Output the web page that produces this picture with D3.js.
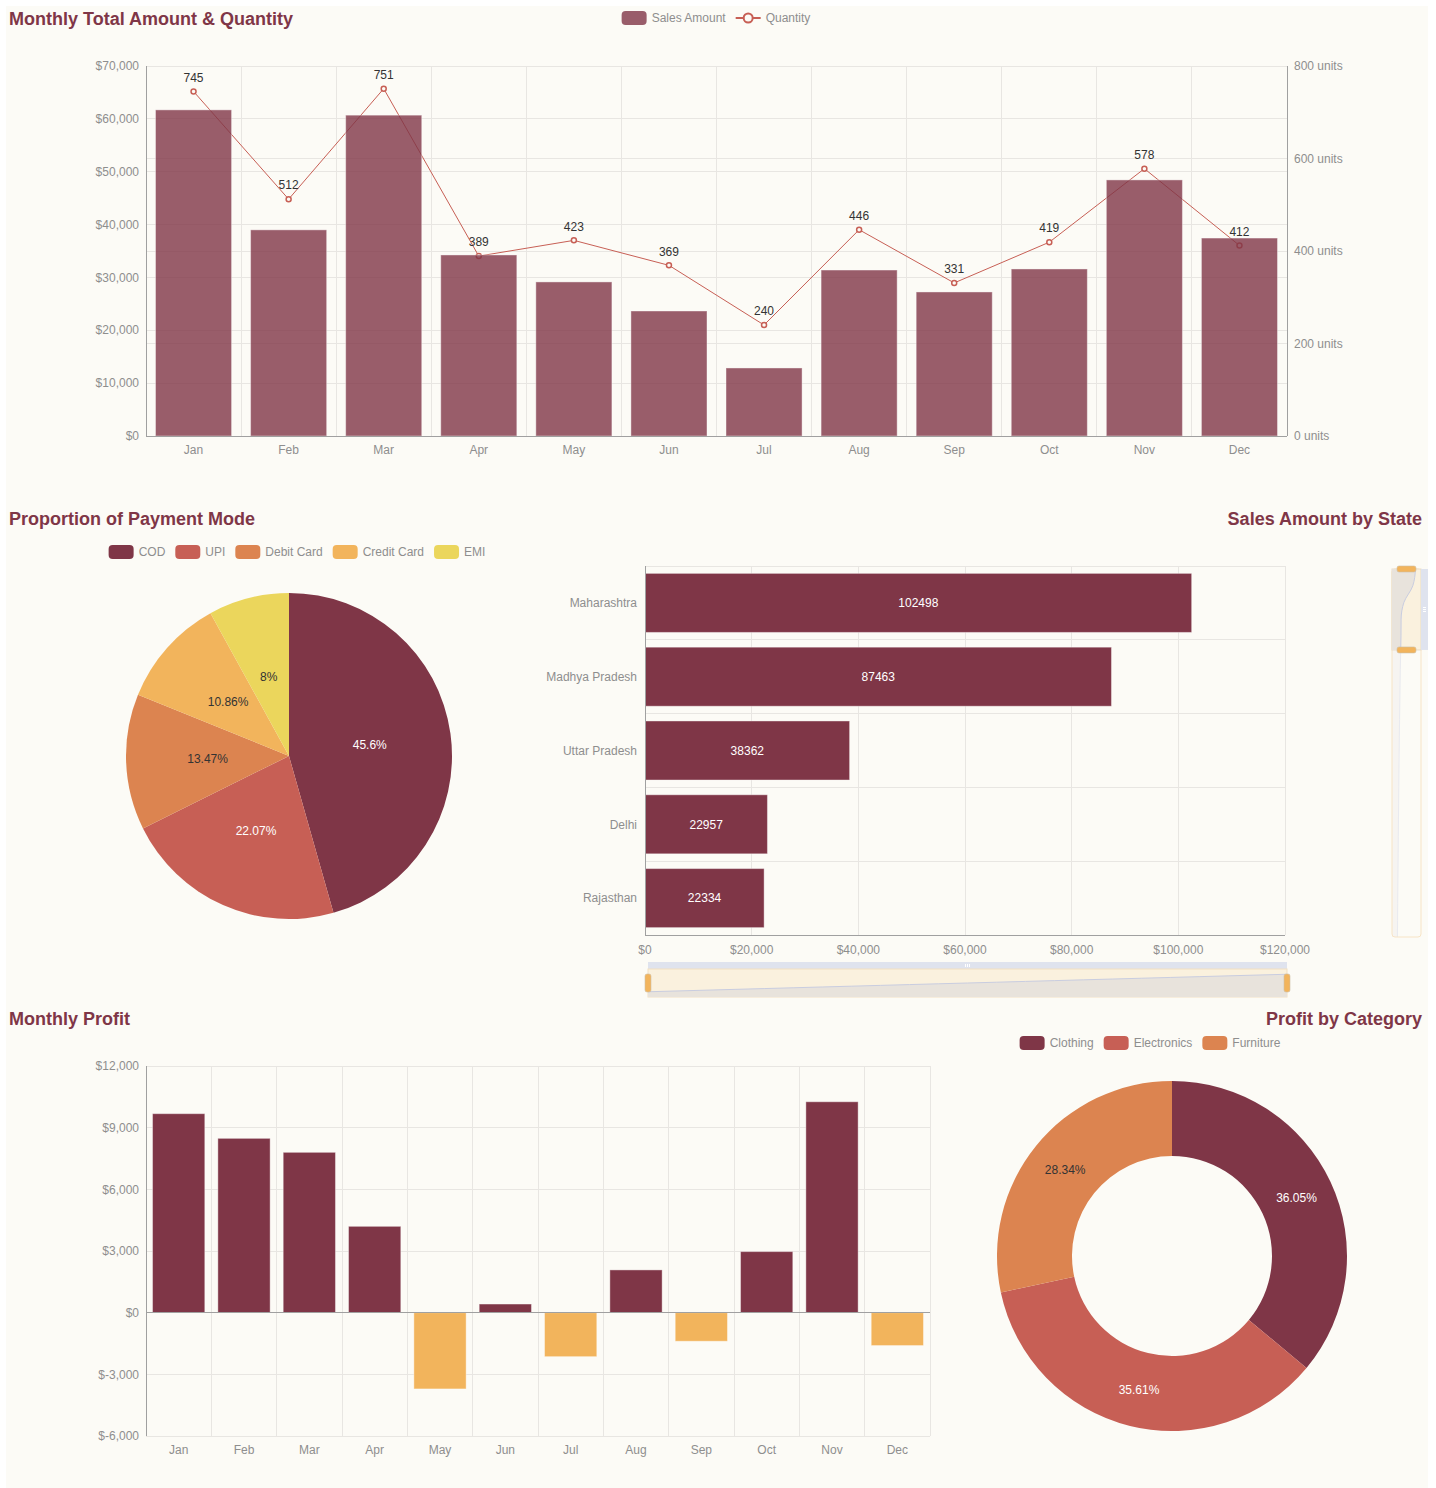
<!DOCTYPE html>
<html><head><meta charset="utf-8">
<script src="https://cdn.jsdelivr.net/npm/d3@7"></script>
<style>
body{margin:0;background:#fff;}
svg{display:block;font-family:"Liberation Sans",Arial,Helvetica,sans-serif;}
</style></head><body>
<svg id="c" width="1436" height="1488"></svg>
<script>
// ---------------- data ----------------
const months = ["Jan","Feb","Mar","Apr","May","Jun","Jul","Aug","Sep","Oct","Nov","Dec"];
const salesAmount = [61700, 39000, 60700, 34250, 29150, 23650, 12870, 31400, 27250, 31600, 48450, 37450];
const quantity = [745, 512, 751, 389, 423, 369, 240, 446, 331, 419, 578, 412];
const salesTicks = [0, 10000, 20000, 30000, 40000, 50000, 60000, 70000];
const qtyTicks = [0, 200, 400, 600, 800];

const paymentModes = ["COD", "UPI", "Debit Card", "Credit Card", "EMI"];
const paymentShare = [45.6, 22.07, 13.47, 10.86, 8];

const states = ["Maharashtra", "Madhya Pradesh", "Uttar Pradesh", "Delhi", "Rajasthan"];
const stateSales = [102498, 87463, 38362, 22957, 22334];
// remaining (hidden) states, ascending, estimated from the slider's data shadow
const hiddenStateSales = [2800, 3500, 4200, 5000, 5900, 6800, 7600, 8500, 9400, 10300, 11200, 12200, 13300, 14500, 15800, 17100, 18600, 20500];
const stateTicks = [0, 20000, 40000, 60000, 80000, 100000, 120000];
const stateZoomRange = [78, 100];

const profit = [9680, 8480, 7800, 4200, -3710, 420, -2140, 2080, -1390, 2970, 10260, -1600];
const profitTicks = [-6000, -3000, 0, 3000, 6000, 9000, 12000];

const categories = ["Clothing", "Electronics", "Furniture"];
const categoryShare = [36.05, 35.61, 28.34];

// ---------------- style ----------------
const COL = {
  maroon: "#7f3647", red: "#c75f55", orange: "#dc8450", amber: "#f2b45c", yellow: "#ebd65c",
  grid: "#e8e6e2", axis: "#a0a0a0", label: "#8e8e8e", title: "#7f3647", bg: "#fcfbf6"
};
const palette = [COL.maroon, COL.red, COL.orange, COL.amber, COL.yellow];
const darkText = new Set([COL.orange, COL.amber, COL.yellow]);
const locale = d3.formatLocale({ decimal: ".", thousands: ",", grouping: [3], currency: ["$", ""], minus: "-" });
const comma = locale.format(",");
const money = v => "$" + comma(v);

const svg = d3.select("#c");
svg.append("rect").attr("x", 6).attr("y", 6).attr("width", 1422).attr("height", 1482).attr("fill", COL.bg);

function title(text, x, y, anchor) {
  svg.append("text").attr("x", x).attr("y", y).attr("text-anchor", anchor || "start")
    .attr("dy", "0.35em").attr("font-size", 18).attr("font-weight", "bold")
    .attr("fill", COL.title).text(text);
}
function hline(g, x0, x1, y, color) {
  g.append("line").attr("x1", x0).attr("x2", x1).attr("y1", y).attr("y2", y)
    .attr("stroke", color).attr("stroke-width", 1).attr("shape-rendering", "crispEdges");
}
function vline(g, x, y0, y1, color) {
  g.append("line").attr("x1", x).attr("x2", x).attr("y1", y0).attr("y2", y1)
    .attr("stroke", color).attr("stroke-width", 1).attr("shape-rendering", "crispEdges");
}
function label(g, text, x, y, anchor, color, size) {
  return g.append("text").attr("x", x).attr("y", y).attr("dy", "0.35em")
    .attr("text-anchor", anchor || "middle").attr("font-size", size || 12)
    .attr("fill", color || COL.label).text(text);
}
function textWidth(t, size) {
  const n = svg.append("text").attr("font-size", size).text(t);
  const w = n.node().getComputedTextLength(); n.remove(); return w;
}
function legend(items, cx, y) {
  const g = svg.append("g");
  const widths = items.map(d => 25 + 5 + textWidth(d.name, 12));
  const total = d3.sum(widths) + 10 * (items.length - 1);
  let x = cx - total / 2;
  items.forEach((d, i) => {
    if (d.type === "line") {
      g.append("line").attr("x1", x).attr("x2", x + 25).attr("y1", y).attr("y2", y)
        .attr("stroke", d.color).attr("stroke-width", 2);
      g.append("circle").attr("cx", x + 12.5).attr("cy", y).attr("r", 4.5)
        .attr("fill", COL.bg).attr("stroke", d.color).attr("stroke-width", 2);
    } else {
      g.append("rect").attr("x", x).attr("y", y - 7).attr("width", 25).attr("height", 14)
        .attr("rx", 4).attr("fill", d.color).attr("fill-opacity", d.opacity || 1);
    }
    label(g, d.name, x + 30, y, "start", COL.label, 12);
    x += widths[i] + 10;
  });
}

// ================= Chart 1: monthly amount & quantity =================
(function () {
  const g = svg.append("g");
  const L = 146, R = 1287, T = 66, B = 436;
  const x = d3.scaleBand().domain(months).range([L, R]);
  const yL = d3.scaleLinear().domain([0, 70000]).range([B, T]);
  const yR = d3.scaleLinear().domain([0, 800]).range([B, T]);
  const bw = x.bandwidth();

  salesTicks.forEach(t => hline(g, L, R, yL(t), COL.grid));
  qtyTicks.forEach(t => hline(g, L, R, yR(t), COL.grid));
  months.forEach(m => vline(g, x(m), T, B, COL.grid));

  // quantity line drawn beneath the semi-transparent bars
  const line = d3.line().x((d, i) => x(months[i]) + bw / 2).y(d => yR(d));
  g.append("path").datum(quantity).attr("d", line).attr("fill", "none")
    .attr("stroke", COL.red).attr("stroke-width", 1);
  quantity.forEach((q, i) => {
    g.append("circle").attr("cx", x(months[i]) + bw / 2).attr("cy", yR(q)).attr("r", 2.5)
      .attr("fill", COL.bg).attr("stroke", COL.red).attr("stroke-width", 1.5);
  });

  g.selectAll(".bar").data(salesAmount).enter().append("rect")
    .attr("x", (d, i) => x(months[i]) + bw * 0.1).attr("width", bw * 0.8)
    .attr("y", d => yL(d)).attr("height", d => B - yL(d))
    .attr("fill", COL.maroon).attr("fill-opacity", 0.8)
    .attr("stroke", "#ffffff").attr("stroke-opacity", 0.4);

  quantity.forEach((q, i) => label(g, q, x(months[i]) + bw / 2, yR(q) - 14, "middle", "#333"));

  vline(g, L, T, B, COL.axis);
  vline(g, R, T, B, COL.axis);
  hline(g, L, R, B, COL.axis);

  salesTicks.forEach(t => label(g, money(t), L - 7, yL(t), "end"));
  qtyTicks.forEach(t => label(g, t + " units", R + 7, yR(t), "start"));
  months.forEach(m => label(g, m, x(m) + bw / 2, B + 14));

  title("Monthly Total Amount & Quantity", 9, 19);
  legend([{ name: "Sales Amount", color: COL.maroon, opacity: 0.8 },
          { name: "Quantity", type: "line", color: COL.red }], 716, 18);
})();

// ================= Chart 2: payment mode pie =================
(function () {
  const g = svg.append("g").attr("transform", "translate(289,756)");
  const pie = d3.pie().sort(null).value(d => d);
  const arc = d3.arc().innerRadius(0).outerRadius(163);
  const arcs = pie(paymentShare);
  g.selectAll("path").data(arcs).enter().append("path")
    .attr("d", arc).attr("fill", (d, i) => palette[i]);
  arcs.forEach((a, i) => {
    const c = arc.centroid(a);
    label(g, paymentShare[i] + "%", c[0], c[1], "middle", darkText.has(palette[i]) ? "#333" : "#fff");
  });
  title("Proportion of Payment Mode", 9, 519);
  legend(paymentModes.map((n, i) => ({ name: n, color: palette[i] })), 297, 552);
})();

// ================= Chart 3: sales by state =================
(function () {
  const g = svg.append("g");
  const L = 645, R = 1285, T = 566, B = 935;
  const x = d3.scaleLinear().domain([0, 120000]).range([L, R]);
  const y = d3.scaleBand().domain(states).range([T, B]);
  const bh = y.bandwidth();

  stateTicks.forEach(t => vline(g, x(t), T, B, COL.grid));
  states.forEach(s => hline(g, L, R, y(s), COL.grid));

  g.selectAll(".sb").data(stateSales).enter().append("rect")
    .attr("x", L).attr("y", (d, i) => y(states[i]) + bh * 0.1)
    .attr("width", d => x(d) - L).attr("height", bh * 0.8)
    .attr("fill", COL.maroon).attr("stroke", "#ffffff").attr("stroke-opacity", 0.4);
  stateSales.forEach((v, i) => label(g, v, (L + x(v)) / 2, y(states[i]) + bh / 2, "middle", "#fff"));

  vline(g, L, T, B, COL.axis);
  hline(g, L, R, B, COL.axis);
  states.forEach(s => label(g, s, L - 8, y(s) + bh / 2, "end"));
  stateTicks.forEach(t => label(g, money(t), x(t), B + 15));

  // full sorted series (ascending) for the zoom sliders' data shadow
  const all = hiddenStateSales.concat(stateSales.slice().reverse());
  const N = all.length;
  const mn = d3.min(all), mx = d3.max(all), sp = mx - mn;

  // ---- horizontal slider (x axis) ----
  const hx0 = 648, hx1 = 1287, hy0 = 969, hy1 = 997;
  const hs = svg.append("g");
  hs.append("rect").attr("x", hx0).attr("y", 962).attr("width", hx1 - hx0).attr("height", 7).attr("fill", "#dfe3ee");
  [-2, 0, 2].forEach(o => vline(hs, 967 + o, 964, 967, "#ffffff"));
  hs.append("rect").attr("x", hx0).attr("y", hy0).attr("width", hx1 - hx0).attr("height", hy1 - hy0)
    .attr("fill", "#faf1de").attr("stroke", "#f1dfc2");
  const hyIdx = d3.scaleLinear().domain([0 - 0.3 * (N - 1), (N - 1) * 1.3]).range([hy1, hy0]);
  const hxIdx = d3.scaleLinear().domain([0, N - 1]).range([hx0, hx1]);
  const hArea = d3.area().x((d, i) => hxIdx(i)).y0(hy1).y1((d, i) => hyIdx(i));
  const hLine = d3.line().x((d, i) => hxIdx(i)).y((d, i) => hyIdx(i));
  hs.append("path").datum(all).attr("d", hArea).attr("fill", "#e8e3dc");
  hs.append("path").datum(all).attr("d", hLine).attr("fill", "none").attr("stroke", "#c9cde0");
  [hx0 - 3, hx1 - 3].forEach(hx => hs.append("rect").attr("x", hx).attr("y", 974).attr("width", 6).attr("height", 18)
    .attr("rx", 2).attr("fill", COL.amber).attr("stroke", "#cdbfa8").attr("stroke-width", 0.6));

  // ---- vertical slider (y axis) ----
  const vx0 = 1392, vx1 = 1421, vy0 = 569, vy1 = 937;
  const vs = svg.append("g");
  const vyIdx = d3.scaleLinear().domain([0, N - 1]).range([vy1, vy0]);
  const vxVal = d3.scaleLinear().domain([mn - 0.3 * sp, mx + 0.3 * sp]).range([vx0, vx1]);
  const sel = d3.scaleLinear().domain([0, 100]).range([vy1, vy0]);
  const sTop = sel(stateZoomRange[1]), sBot = sel(stateZoomRange[0]);
  const vArea = d3.area().curve(d3.curveMonotoneY).y((d, i) => vyIdx(i)).x0(vx0).x1(d => vxVal(d));
  const vLine = d3.line().curve(d3.curveMonotoneY).y((d, i) => vyIdx(i)).x(d => vxVal(d));
  vs.append("path").datum(all).attr("d", vArea).attr("fill", "#f6f4f1");
  vs.append("path").datum(all).attr("d", vLine).attr("fill", "none").attr("stroke", "#e9eaef");
  vs.append("rect").attr("x", vx0).attr("y", vy0).attr("width", vx1 - vx0).attr("height", vy1 - vy0)
    .attr("rx", 3).attr("fill", "none").attr("stroke", "#f7e4c6");
  const clip = svg.append("defs").append("clipPath").attr("id", "vsel");
  clip.append("rect").attr("x", vx0).attr("y", sTop).attr("width", vx1 - vx0).attr("height", sBot - sTop);
  vs.append("rect").attr("x", vx0).attr("y", sTop).attr("width", vx1 - vx0).attr("height", sBot - sTop)
    .attr("fill", "#faf1de").attr("stroke", "#e9dcc6");
  const sg = vs.append("g").attr("clip-path", "url(#vsel)");
  sg.append("path").datum(all).attr("d", vArea).attr("fill", "#e8e3dc");
  sg.append("path").datum(all).attr("d", vLine).attr("fill", "none").attr("stroke", "#c9cde0");
  vs.append("rect").attr("x", vx1).attr("y", sTop).attr("width", 7).attr("height", sBot - sTop).attr("fill", "#dfe3ee");
  [-2, 0, 2].forEach(o => hline(vs, 1423, 1426, (sTop + sBot) / 2 + o, "#ffffff"));
  [sTop, sBot].forEach(hy => vs.append("rect").attr("x", 1397).attr("y", hy - 3).attr("width", 19).attr("height", 6)
    .attr("rx", 2).attr("fill", COL.amber).attr("stroke", "#cdbfa8").attr("stroke-width", 0.6));

  title("Sales Amount by State", 1422, 519, "end");
})();

// ================= Chart 4: monthly profit =================
(function () {
  const g = svg.append("g");
  const L = 146, R = 930, T = 1066, B = 1436;
  const x = d3.scaleBand().domain(months).range([L, R]);
  const y = d3.scaleLinear().domain([-6000, 12000]).range([B, T]);
  const bw = x.bandwidth();

  profitTicks.forEach(t => hline(g, L, R, y(t), COL.grid));
  months.forEach(m => vline(g, x(m), T, B, COL.grid));
  vline(g, R, T, B, COL.grid);

  g.selectAll(".pb").data(profit).enter().append("rect")
    .attr("x", (d, i) => x(months[i]) + bw * 0.1).attr("width", bw * 0.8)
    .attr("y", d => y(Math.max(0, d))).attr("height", d => Math.abs(y(d) - y(0)))
    .attr("fill", d => d >= 0 ? COL.maroon : COL.amber)
    .attr("stroke", "#ffffff").attr("stroke-opacity", 0.4);

  vline(g, L, T, B, COL.axis);
  hline(g, L, R, y(0), COL.axis);
  profitTicks.forEach(t => label(g, money(t), L - 7, y(t), "end"));
  months.forEach(m => label(g, m, x(m) + bw / 2, B + 14));

  title("Monthly Profit", 9, 1019);
})();

// ================= Chart 5: profit by category donut =================
(function () {
  const g = svg.append("g").attr("transform", "translate(1172,1256)");
  const pie = d3.pie().sort(null).value(d => d);
  const arc = d3.arc().innerRadius(100).outerRadius(175);
  const arcs = pie(categoryShare);
  g.selectAll("path").data(arcs).enter().append("path")
    .attr("d", arc).attr("fill", (d, i) => palette[i]);
  arcs.forEach((a, i) => {
    const c = arc.centroid(a);
    label(g, categoryShare[i] + "%", c[0], c[1], "middle", darkText.has(palette[i]) ? "#333" : "#fff");
  });
  title("Profit by Category", 1422, 1019, "end");
  legend(categories.map((n, i) => ({ name: n, color: palette[i] })), 1150, 1043);
})();
</script>
</body></html>
